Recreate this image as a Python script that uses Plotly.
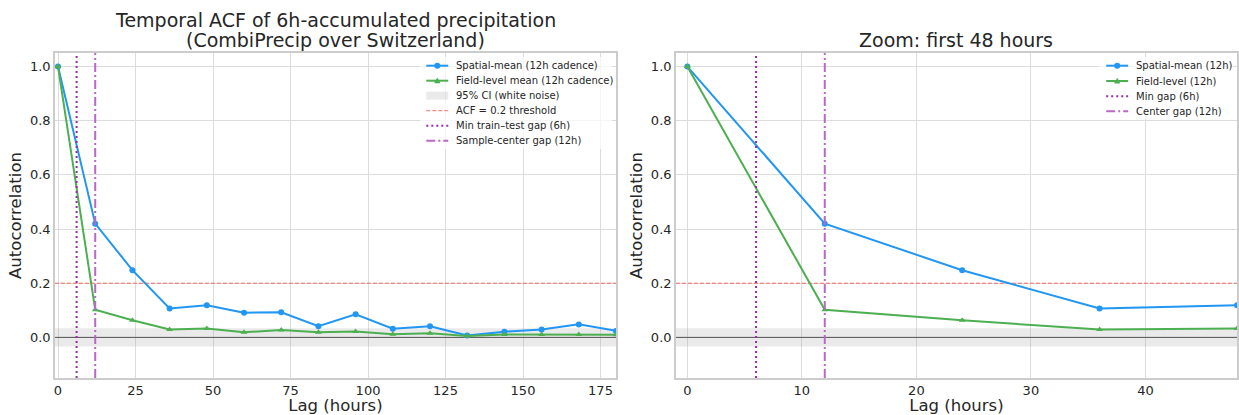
import plotly.graph_objects as go

# ---- data ----
lags = [0, 12, 24, 36, 48, 60, 72, 84, 96, 108, 120, 132, 144, 156, 168, 180]
spatial_mean = [1.0, 0.42, 0.248, 0.107, 0.119, 0.091, 0.093, 0.041, 0.085,
                0.032, 0.041, 0.007, 0.021, 0.029, 0.048, 0.024]
field_level = [1.0, 0.102, 0.063, 0.029, 0.033, 0.019, 0.027, 0.019, 0.022,
               0.012, 0.015, 0.005, 0.011, 0.011, 0.011, 0.010]
ci95 = 0.034
threshold = 0.2
min_gap = 6
center_gap = 12
zoom_max = 48

full_names = ["Spatial-mean (12h cadence)", "Field-level mean (12h cadence)",
              "95% CI (white noise)", "ACF = 0.2 threshold",
              "Min train\u2013test gap (6h)", "Sample-center gap (12h)"]
zoom_names = ["Spatial-mean (12h)", "Field-level (12h)", "Min gap (6h)", "Center gap (12h)"]

BLUE = "#2196F3"
GREEN = "#4CAF50"
RED = "rgba(244,67,54,0.75)"
PURPLE = "#9C27B0"
ORCHID = "#BA68C8"
BAND = "rgba(150,150,150,0.2)"
GRID = "#dcdcdc"
TXT = "#262626"

W, H = 1239, 415
def px_x(p):
    return p / W
def px_y(p):
    return 1 - p / H

XD1 = [px_x(54), px_x(616)]
XD2 = [px_x(676), px_x(1238)]
YD = [px_y(378), px_y(53)]
YR = [-0.15, 1.05]

fig = go.Figure()

def add_panel(xa, ya, xmax):
    zl = [l for l in lags if l <= xmax]
    sm = spatial_mean[:len(zl)]
    fl = field_level[:len(zl)]
    xr = [-1, xmax]
    fig.add_trace(go.Scatter(
        x=[xr[0], xr[1], xr[1], xr[0], xr[0]],
        y=[-ci95, -ci95, ci95, ci95, -ci95],
        fill="toself", fillcolor=BAND, line=dict(width=0), mode="lines",
        hoverinfo="skip", showlegend=False, xaxis=xa, yaxis=ya))
    fig.add_trace(go.Scatter(x=xr, y=[0, 0], mode="lines",
                             line=dict(color="#333333", width=0.8),
                             showlegend=False, hoverinfo="skip", xaxis=xa, yaxis=ya))
    fig.add_trace(go.Scatter(x=xr, y=[threshold, threshold], mode="lines",
                             line=dict(color=RED, width=1, dash="4px,2px"),
                             showlegend=False, xaxis=xa, yaxis=ya))
    fig.add_trace(go.Scatter(x=zl, y=sm, mode="lines+markers",
                             line=dict(color=BLUE, width=2),
                             marker=dict(symbol="circle", size=6, color=BLUE),
                             showlegend=False, xaxis=xa, yaxis=ya))
    fig.add_trace(go.Scatter(x=zl, y=fl, mode="lines+markers",
                             line=dict(color=GREEN, width=2),
                             marker=dict(symbol="triangle-up", size=6, color=GREEN),
                             showlegend=False, xaxis=xa, yaxis=ya))
    fig.add_trace(go.Scatter(x=[min_gap, min_gap], y=YR, mode="lines",
                             line=dict(color=PURPLE, width=2, dash="2px,3px"),
                             showlegend=False, xaxis=xa, yaxis=ya))
    fig.add_trace(go.Scatter(x=[center_gap, center_gap], y=YR, mode="lines",
                             line=dict(color=ORCHID, width=2, dash="9px,3px,2px,3px"),
                             showlegend=False, xaxis=xa, yaxis=ya))

add_panel("x", "y", 180)
add_panel("x2", "y2", zoom_max)

shapes = []
annotations = []

def legend_entry(x0, x1, yc, kind, label):
    xm = (x0 + x1) / 2
    if kind == "band":
        shapes.append(dict(type="rect", xref="paper", yref="paper",
                           x0=px_x(x0), x1=px_x(x1), y0=px_y(yc + 4), y1=px_y(yc - 4),
                           fillcolor=BAND, line=dict(width=0)))
    else:
        color, width, dash = {
            "blue": (BLUE, 2, "solid"), "green": (GREEN, 2, "solid"),
            "red": (RED, 1, "4px,2px"), "dot": (PURPLE, 2, "2px,3px"),
            "dashdot": (ORCHID, 2, "9px,3px,2px,3px")}[kind]
        shapes.append(dict(type="line", xref="paper", yref="paper",
                           x0=px_x(x0), x1=px_x(x1), y0=px_y(yc), y1=px_y(yc),
                           line=dict(color=color, width=width, dash=dash)))
        if kind == "blue":
            shapes.append(dict(type="circle", xref="paper", yref="paper",
                               x0=px_x(xm - 3), x1=px_x(xm + 3),
                               y0=px_y(yc + 3), y1=px_y(yc - 3),
                               fillcolor=BLUE, line=dict(width=0)))
        if kind == "green":
            path = "M {} {} L {} {} L {} {} Z".format(
                px_x(xm - 3.2), px_y(yc + 2.5), px_x(xm + 3.2), px_y(yc + 2.5),
                px_x(xm), px_y(yc - 3.2))
            shapes.append(dict(type="path", xref="paper", yref="paper", path=path,
                               fillcolor=GREEN, line=dict(width=0)))
    annotations.append(dict(text=label, x=px_x(x1 + 6), y=px_y(yc), xref="paper", yref="paper",
                            xanchor="left", yanchor="middle", showarrow=False,
                            font=dict(size=10, color=TXT, family="DejaVu Sans")))

shapes.append(dict(type="rect", xref="paper", yref="paper", x0=px_x(420), x1=px_x(612),
                   y0=px_y(149), y1=px_y(57), fillcolor="rgba(255,255,255,0.7)",
                   line=dict(width=0)))
shapes.append(dict(type="rect", xref="paper", yref="paper", x0=px_x(1100), x1=px_x(1234),
                   y0=px_y(119), y1=px_y(57), fillcolor="rgba(255,255,255,0.7)",
                   line=dict(width=0)))
rows1 = [65.7, 80.7, 95.7, 110.7, 125.7, 140.7]
kinds1 = ["blue", "green", "band", "red", "dot", "dashdot"]
for yc, k, n in zip(rows1, kinds1, full_names):
    legend_entry(426, 448, yc, k, n)
rows2 = [65.7, 81.0, 96.3, 111.3]
kinds2 = ["blue", "green", "dot", "dashdot"]
for yc, k, n in zip(rows2, kinds2, zoom_names):
    legend_entry(1107, 1129, yc, k, n)

title_font = dict(size=19, color=TXT, family="DejaVu Sans")
cx1 = (XD1[0] + XD1[1]) / 2
cx2 = (XD2[0] + XD2[1]) / 2
annotations += [
    dict(text="Temporal ACF of 6h-accumulated precipitation", x=cx1, y=px_y(20),
         xref="paper", yref="paper", xanchor="center", yanchor="middle",
         showarrow=False, font=title_font),
    dict(text="(CombiPrecip over Switzerland)", x=cx1, y=px_y(40),
         xref="paper", yref="paper", xanchor="center", yanchor="middle",
         showarrow=False, font=title_font),
    dict(text="Zoom: first 48 hours", x=cx2, y=px_y(40),
         xref="paper", yref="paper", xanchor="center", yanchor="middle",
         showarrow=False, font=title_font),
]

axis_common = dict(showgrid=True, gridcolor=GRID, gridwidth=1, zeroline=False,
                   showline=True, linecolor="#cccccc", linewidth=1.5, mirror=True,
                   ticks="", tickfont=dict(size=13, color=TXT, family="DejaVu Sans"),
                   title_font=dict(size=16.5, color=TXT, family="DejaVu Sans"))

fig.update_layout(
    width=W, height=H,
    margin=dict(l=0, r=0, t=0, b=0),
    paper_bgcolor="white", plot_bgcolor="white",
    font=dict(family="DejaVu Sans", color=TXT),
    showlegend=False,
    xaxis=dict(domain=XD1, range=[-1, 180], tickvals=[0, 25, 50, 75, 100, 125, 150, 175],
               title=dict(text="Lag (hours)", standoff=4), anchor="y", **axis_common),
    yaxis=dict(domain=YD, range=YR, tickvals=[0, 0.2, 0.4, 0.6, 0.8, 1.0],
               tickformat=".1f", title=dict(text="Autocorrelation", standoff=4),
               anchor="x", **axis_common),
    xaxis2=dict(domain=XD2, range=[-1, zoom_max], tickvals=[0, 10, 20, 30, 40],
                title=dict(text="Lag (hours)", standoff=4), anchor="y2", **axis_common),
    yaxis2=dict(domain=YD, range=YR, tickvals=[0, 0.2, 0.4, 0.6, 0.8, 1.0],
                tickformat=".1f", title=dict(text="Autocorrelation", standoff=4),
                anchor="x2", **axis_common),
    shapes=shapes,
    annotations=annotations,
)

fig.write_html("out.html", config={"displayModeBar": False},
               post_script="document.body.style.margin='0px';")
